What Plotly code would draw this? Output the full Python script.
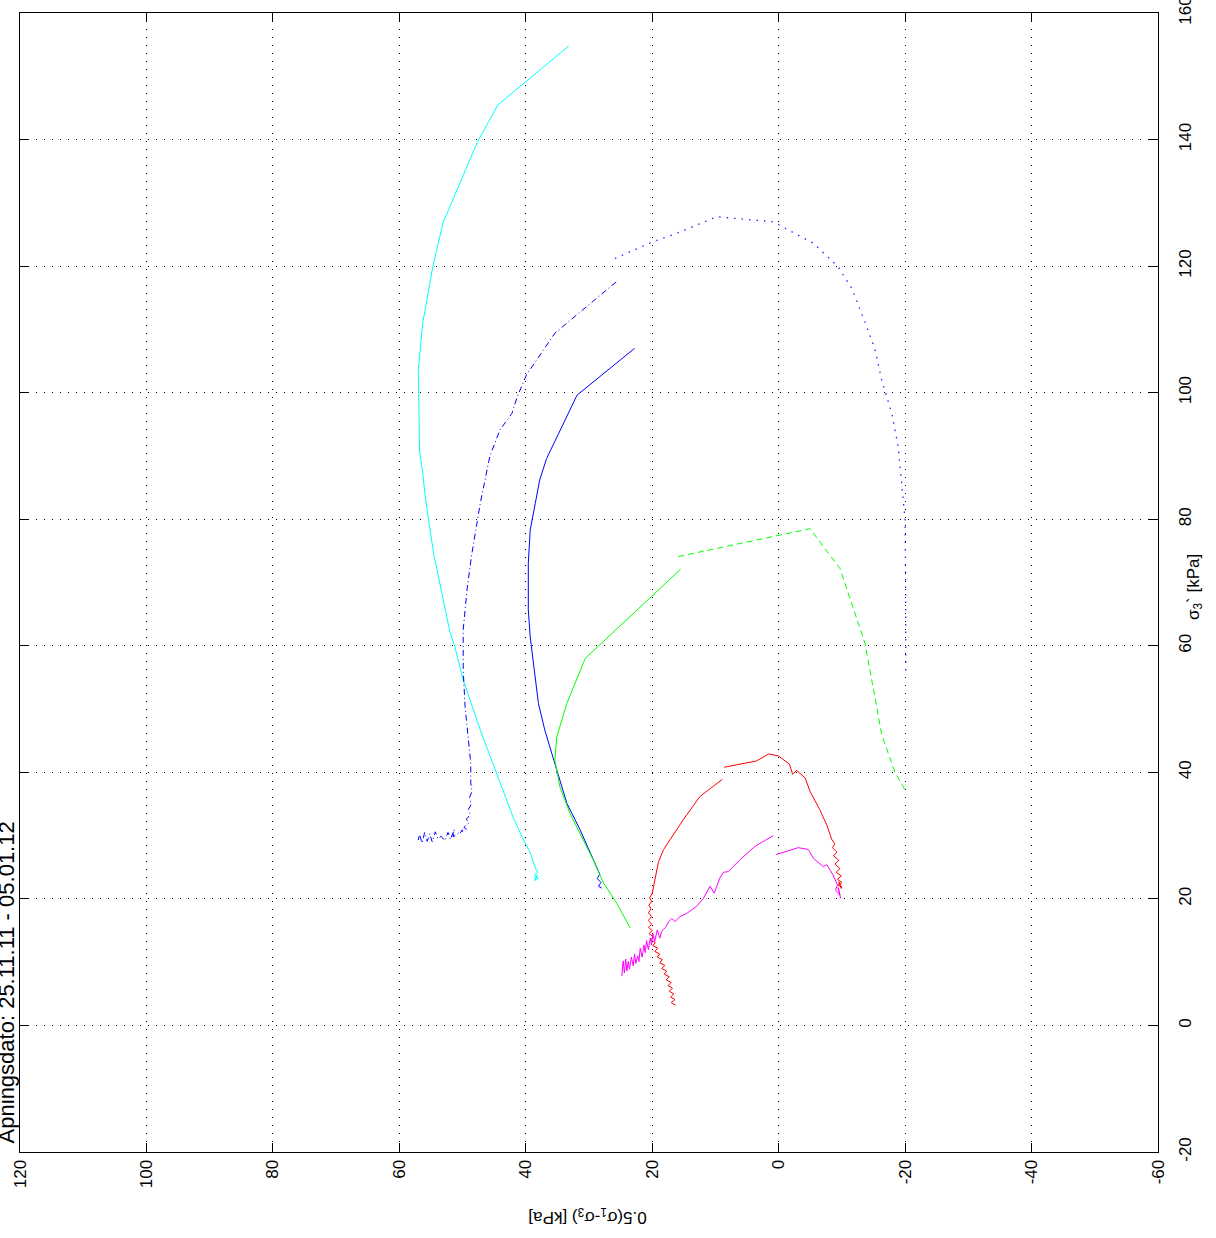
import plotly.graph_objects as go

# x = 0.5(sigma1 - sigma3) [kPa], y = sigma3' [kPa]
cyan_x = [33.2, 44.4, 47.7, 50.9, 53.1, 54.7, 56.3, 57.0, 56.8, 56.3, 55.9, 54.6, 53.3, 52.0, 51.2, 49.9,
          47.2, 44.6, 42.0, 40.6, 39.3, 38.5, 38.1, 38.7, 38.0, 38.6, 38.2, 38.5]
cyan_y = [154.8, 145.5, 139.5, 132.0, 126.8, 119.9, 111.0, 103.6, 90.9, 87.3, 83.5, 74.7, 68.3, 62.2, 59.8, 54.6,
          46.7, 39.9, 32.9, 29.8, 27.3, 24.9, 24.2, 23.7, 23.3, 22.9, 23.8, 23.0]

dashdot_x = [25.7, 35.4, 39.9, 41.4, 42.2, 44.1, 45.7, 47.2, 48.6, 49.3, 49.9, 49.9, 49.6, 49.1, 48.7,
             48.7, 48.5, 48.9, 48.6, 49.1, 48.8, 49.4, 49.0, 49.8, 49.4, 50.4, 50.0, 50.9, 51.5, 51.3,
             51.9, 52.3, 52.8, 53.4, 53.9, 54.3, 54.8, 55.2, 55.6, 56.0, 56.4, 56.8, 57.0, 56.9]
dashdot_y = [117.5, 109.4, 102.8, 99.2, 96.7, 94.1, 89.9, 82.5, 74.1, 68.8, 62.5, 56.2, 50.4, 45.7, 41.4,
             38.3, 37.0, 36.0, 35.0, 34.1, 33.3, 32.6, 32.0, 31.3, 31.0, 30.4, 30.9, 30.2, 29.8, 31.0,
             29.4, 30.5, 29.2, 29.9, 29.5, 30.6, 29.0, 30.3, 29.1, 30.5, 28.8, 30.2, 29.3, 29.8]

blue_x = [22.8, 31.9, 36.7, 37.8, 38.5, 39.3, 39.6, 39.6, 39.3, 38.8, 38.0, 37.0, 35.4, 33.5, 31.4,
          28.8, 28.3, 28.7, 28.1, 28.5, 28.0]
blue_y = [107.0, 99.6, 89.6, 86.2, 82.5, 78.3, 73.0, 65.7, 61.4, 57.2, 50.9, 46.7, 41.4, 35.1, 30.9,
          24.8, 23.9, 23.2, 22.6, 22.0, 21.7]

dotted_x = [25.9, 19.8, 16.1, 9.8, 0.85, -5.5, -9.4, -11.55, -13.4, -15.2, -16.3, -17.9, -18.9, -19.5,
            -20.0, -20.1, -20.1]
dotted_y = [121.2, 123.9, 125.2, 127.8, 127.0, 123.6, 119.9, 116.5, 111.8, 107.0, 102.0, 96.7, 91.5, 85.7,
            79.9, 67.2, 55.7]

green_x = [15.5, 30.6, 33.5, 35.1, 35.4, 34.6, 33.0, 31.2, 29.3, 27.7, 25.6, 23.5]
green_y = [72.1, 58.0, 50.9, 45.6, 41.9, 37.7, 33.5, 29.8, 26.1, 22.5, 19.3, 15.4]

green_dash_x = [15.9, -4.95, -9.7, -13.65, -15.2, -16.3, -18.4, -20.0]
green_dash_y = [74.1, 78.5, 72.2, 60.4, 52.0, 45.9, 40.0, 37.2]

red_x = [16.3, 17.0, 16.4, 17.1, 16.6, 17.3, 16.8, 17.5, 17.0, 17.8, 17.3, 18.1, 17.7, 18.5, 18.0, 18.8,
         18.4, 19.2, 18.8, 19.6, 19.1, 19.9, 19.5, 20.3, 19.8, 20.5, 20.0, 20.6, 20.1, 20.6, 20.1, 20.6,
         20.2, 20.5, 20.1, 20.4, 20.0, 19.8, 19.5, 19.0, 18.2, 17.2, 15.1, 12.45, 8.9, None,
         8.65, 5.05, 3.5, 1.6, 0.05, -1.7, -2.2, -2.85, -4.2, -4.95, -6.5, -7.6, -8.4, -8.9, -8.5, -9.2,
         -8.7, -9.5, -8.9, -9.7, -9.1, -9.9, -9.3, -10.0, -9.4, -10.0, -9.5, -9.9]
red_y = [3.2, 3.6, 4.1, 4.5, 5.0, 5.4, 5.9, 6.3, 6.8, 7.2, 7.7, 8.1, 8.6, 9.0, 9.5, 9.9,
         10.4, 10.8, 11.3, 11.7, 12.2, 12.6, 13.1, 13.5, 14.0, 14.5, 15.0, 15.5, 16.0, 16.6, 17.2, 17.8,
         18.4, 19.0, 19.6, 20.2, 20.9, 21.9, 23.5, 25.9, 27.8, 29.3, 32.5, 36.2, 38.9, None,
         40.8, 41.5, 41.8, 42.9, 42.6, 41.3, 39.7, 40.3, 39.1, 37.0, 34.1, 31.7, 29.4, 28.7, 28.1, 27.4,
         26.8, 26.1, 25.5, 24.8, 24.2, 23.6, 23.1, 22.6, 22.2, 21.8, 22.7, 21.6]

mag_x = [24.8, 24.6, 24.4, 24.2, 24.0, 23.8, 23.6, 23.3, 23.0, 22.8, 22.6, 22.3, 22.1, 21.9, 21.6, 21.3,
         21.1, 20.9, 20.6, 20.3, 20.1, 19.9, 19.6, 19.2, 18.8, 18.5, 17.9, 17.4, 16.9, 16.4, 15.6, 14.55,
         13.0, 11.9, 10.85, 10.2, 9.3, 8.75, 8.0, 6.1, 3.75, 0.85, None,
         0.4, -3.1, -4.7, -5.5, -7.05, -7.6, -8.6, -9.3, -9.0, -9.7, -9.4, -9.8]
mag_y = [7.8, 10.2, 8.3, 10.5, 8.6, 10.1, 8.9, 10.8, 9.4, 11.3, 9.8, 11.0, 10.1, 12.2, 10.8, 12.7,
         11.5, 13.4, 12.0, 13.8, 12.7, 14.5, 13.3, 15.1, 13.8, 14.9, 15.5, 16.4, 16.9, 16.4, 17.2, 17.7,
         18.8, 20.1, 22.0, 20.9, 23.3, 24.2, 24.3, 26.2, 28.3, 30.0, None,
         27.0, 28.1, 27.8, 26.4, 25.1, 25.4, 23.8, 22.2, 21.4, 20.6, 21.8, 20.1]

x_ticks = [120, 100, 80, 60, 40, 20, 0, -20, -40, -60]
y_ticks = [-20, 0, 20, 40, 60, 80, 100, 120, 140, 160]

x_title = "0.5(σ<sub>1</sub>-σ<sub>3</sub>) [kPa]"
y_title = "σ<sub>3</sub>` [kPa]"
side_text = "Åpningsdato: 25.11.11 - 05.01.12"

fig = go.Figure()

def add(x, y, color, dash="solid", width=1):
    fig.add_trace(go.Scatter(x=x, y=y, mode="lines", line=dict(color=color, width=width, dash=dash),
                             connectgaps=False, showlegend=False, hoverinfo="skip"))

add(cyan_x, cyan_y, "#00FFFF")
add(dashdot_x, dashdot_y, "#0000FF", "6px,3px,1px,3px")
add(blue_x, blue_y, "#0000FF")
add(dotted_x, dotted_y, "#2222FF", "1.5px,6px", 1.3)
add(green_x, green_y, "#00FF00")
add(green_dash_x, green_dash_y, "#00FF00", "6px,4px")
add(red_x, red_y, "#FF0000")
add(mag_x, mag_y, "#FF00FF")

font = dict(family="Liberation Sans, Arial, sans-serif", size=17, color="black")

axis_common = dict(showline=True, linecolor="black", linewidth=1, mirror="ticks",
                   ticks="inside", ticklen=9, tickcolor="black", tickwidth=1,
                   showgrid=True, gridcolor="black", gridwidth=1, griddash="1px,7px",
                   zeroline=False, tickangle=-90, tickfont=font, automargin=False,
                   ticklabeloverflow="allow")

fig.update_layout(
    width=1216, height=1238,
    margin=dict(l=20, r=58, t=13, b=86, autoexpand=False),
    paper_bgcolor="white", plot_bgcolor="white",
    xaxis=dict(range=[120, -60], tickvals=x_ticks, ticktext=[str(v) for v in x_ticks], **axis_common),
    yaxis=dict(range=[-20, 160], tickvals=y_ticks, ticktext=[str(v) for v in y_ticks], side="right",
               ticklabelstandoff=12, **axis_common),
    annotations=[
        dict(text=x_title, xref="paper", yref="paper", x=0.499, y=-0.0562, showarrow=False,
             textangle=180, font=dict(family=font["family"], size=17, color="black"),
             xanchor="center", yanchor="middle"),
        dict(text=y_title, xref="paper", yref="paper", x=1.0325, y=0.496, showarrow=False,
             textangle=-90, font=dict(family=font["family"], size=17, color="black"),
             xanchor="center", yanchor="middle"),
        dict(text=side_text, xref="paper", yref="paper", x=-0.0122, y=0.149, showarrow=False,
             textangle=-90, font=dict(family=font["family"], size=22, color="black"),
             xanchor="center", yanchor="middle"),
    ],
)

fig.write_html("out.html", config={"displayModeBar": False},
               post_script="document.body.style.margin='0px';")
